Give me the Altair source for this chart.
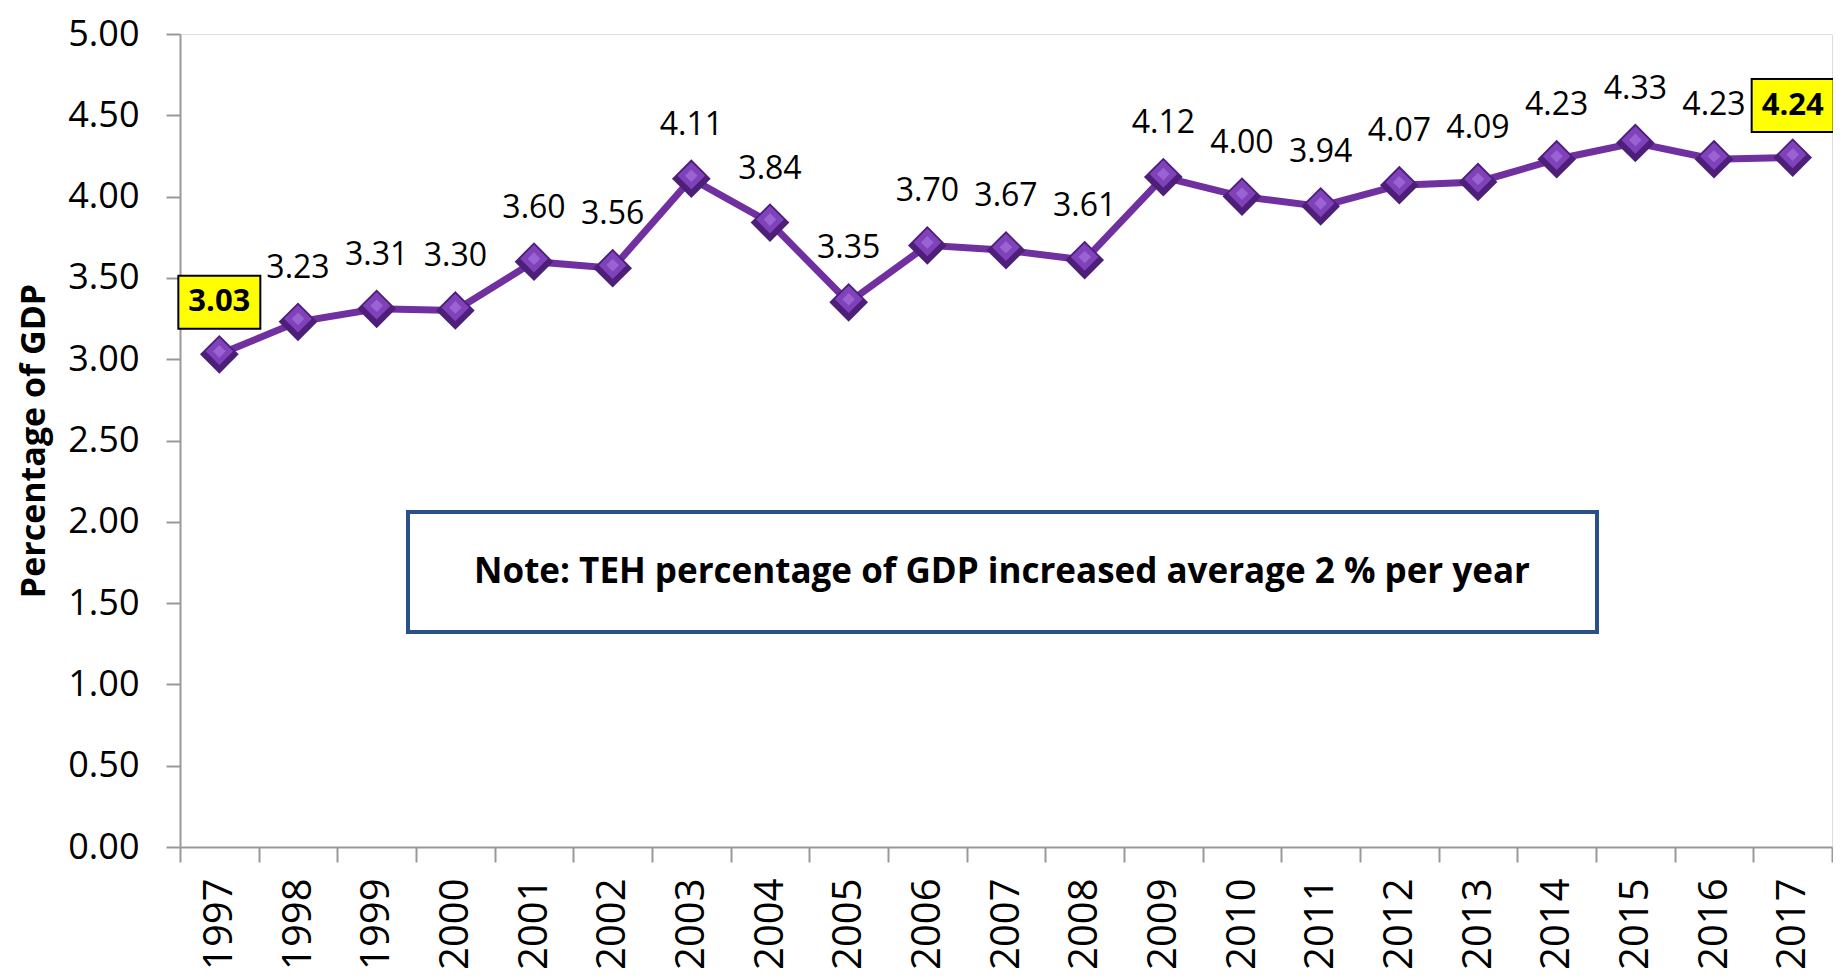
import altair as alt
import pandas as pd

years = [str(y) for y in range(1997, 2018)]
values = [3.03, 3.23, 3.31, 3.30, 3.60, 3.56, 4.11, 3.84, 3.35, 3.70, 3.67,
          3.61, 4.12, 4.00, 3.94, 4.07, 4.09, 4.23, 4.33, 4.23, 4.24]
highlight_years = ["1997", "2017"]
note_text = "Note: TEH percentage of GDP increased average 2 % per year"
y_ticks = [0, 0.5, 1, 1.5, 2, 2.5, 3, 3.5, 4, 4.5, 5]

df = pd.DataFrame({"year": years, "value": values})
df["label"] = df["value"].map(lambda v: f"{v:.2f}")
df["hl"] = df["year"].isin(highlight_years)

W, H = 1652, 813
FONT = "Open Sans"
PURPLE = "#7030A0"

x = alt.X("year:N", sort=years, title=None,
          scale=alt.Scale(paddingInner=0, paddingOuter=0),
          axis=alt.Axis(labelAngle=-90, labelFontSize=40, labelFont=FONT,
                        labelColor="black", labelPadding=16, tickSize=15,
                        tickColor="#999999", domainColor="#999999",
                        tickWidth=2, domainWidth=2, tickBand="extent",
                        labelAlign="right", labelBaseline="middle"))
y = alt.Y("value:Q", title="Percentage of GDP",
          scale=alt.Scale(domain=[0, 5], nice=False, zero=True),
          axis=alt.Axis(values=y_ticks, format=".2f", labelFontSize=36,
                        labelFont=FONT, labelColor="black", labelPadding=27,
                        tickSize=14, tickColor="#999999", domainColor="#999999",
                        tickWidth=2, domainWidth=2, grid=False,
                        titleFont=FONT, titleFontSize=34, titleFontWeight="bold",
                        titleColor="black", titleX=-146, titleY=H / 2,
                        titleAngle=270, titleAlign="center",
                        titleBaseline="middle"))

base = alt.Chart(df)

line = base.mark_line(color=PURPLE, strokeWidth=7).encode(x=x, y=y)
pts_dark = base.mark_point(shape="diamond", filled=True, size=1500,
                           color="#4E1F78", opacity=1).encode(x=x, y=y)
pts_light = base.mark_point(shape="diamond", filled=True, size=760,
                            color="#7F42BA", opacity=1, yOffset=-3).encode(x=x, y=y)
pts_mid = base.mark_point(shape="diamond", filled=True, size=160,
                          color="#9A62D2", opacity=1, yOffset=-3).encode(x=x, y=y)

labels = base.transform_filter("!datum.hl").mark_text(
    font=FONT, fontSize=32, color="black", dy=-44, baseline="alphabetic",
    align="center").encode(x=x, y=y, text="label:N")

box_path = "M-1,-0.646L1,-0.646L1,0.646L-1,0.646Z"
hl_boxes = base.transform_filter("datum.hl").mark_point(
    shape=box_path, size=82 * 82, filled=True, fill="#FFFF00", stroke="black",
    strokeWidth=2, opacity=1, fillOpacity=1, yOffset=-52).encode(x=x, y=y)
hl_text = base.transform_filter("datum.hl").mark_text(
    font=FONT, fontSize=31, fontWeight="bold", color="black", dy=-52,
    baseline="middle", align="center").encode(x=x, y=y, text="label:N")

note_df = pd.DataFrame({"text": [note_text]})
note_box = alt.Chart(note_df).mark_rect(
    fill="white", stroke="#2A5088", strokeWidth=4).encode(
    x=alt.value(228), x2=alt.value(1417), y=alt.value(478), y2=alt.value(598))
note = alt.Chart(note_df).mark_text(
    font=FONT, fontSize=35, fontWeight="bold", color="black",
    align="center", baseline="middle").encode(
    x=alt.value(822), y=alt.value(538), text="text:N")

chart = alt.layer(note_box, note, line, pts_dark, pts_light, pts_mid, labels,
                  hl_boxes, hl_text).properties(
    width=W, height=H,
    autosize=alt.AutoSizeParams(type="none"),
    padding={"left": 172, "top": 26, "right": 1, "bottom": 124},
).configure_view(stroke=None).configure(background="white")

chart.save("out.html", embed_options={"renderer": "svg", "actions": False})
